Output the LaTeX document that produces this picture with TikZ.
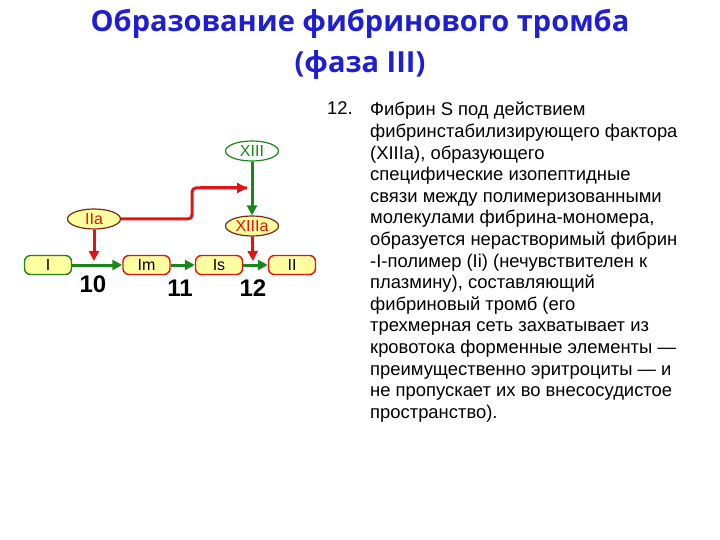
\documentclass[tikz,border=0pt]{standalone}
\usepackage{fontspec}
\setmainfont{Liberation Sans}
\newfontfamily\titlefont{Open Sans}
\usetikzlibrary{shapes.geometric,arrows.meta}
\definecolor{tblue}{RGB}{30,30,210}
\definecolor{agreen}{RGB}{25,135,25}
\definecolor{ared}{RGB}{225,20,20}
\definecolor{bfill}{RGB}{255,255,160}
\definecolor{edark}{RGB}{120,40,20}
\tikzset{
  stagebox/.style={draw, line width=1.4pt, rounded corners=6pt, fill=bfill,
    minimum width=47pt, minimum height=19pt, inner sep=0pt,
    font=\fontsize{16}{16}\selectfont},
  factor/.style={ellipse, draw=edark, line width=1.2pt, fill=bfill,
    minimum width=53pt, minimum height=20pt, inner sep=0pt,
    text=ared, font=\fontsize{16}{16}\selectfont},
  garrow/.style={agreen, line width=3pt, -{Triangle[length=10pt,width=10pt]}},
  rarrow/.style={ared, line width=3pt, -{Triangle[length=10pt,width=10pt]}},
  stepnum/.style={font=\bfseries\fontsize{24}{24}\selectfont},
}
\begin{document}
\begin{tikzpicture}[x=1pt,y=-1pt]
\useasboundingbox (0,0) rectangle (720,540);
% title
\node[font=\titlefont\bfseries\fontsize{29}{41}\selectfont, text=tblue, align=center] (title) at (360,44)
  {Образование фибринового тромба\\(фаза III)};
% stage boxes
\node[stagebox, draw=agreen] (I) at (48,265) {I};
\node[stagebox, draw=ared] (Im) at (146.5,265) {Im};
\node[stagebox, draw=ared] (Is) at (219,265) {Is};
\node[stagebox, draw=ared] (II) at (292,265) {II};
% factors
\node[factor] (IIa) at (94,219) {IIa};
\node[factor, draw=agreen, fill=white, text=agreen] (XIII) at (252,151) {XIII};
\node[factor] (XIIIa) at (252,226) {XIIIa};
% arrows
\draw[garrow] (I) -- (Im);
\draw[garrow] (Im) -- (Is);
\draw[garrow] (Is) -- (II);
\coordinate (c10) at (94,261);
\coordinate (c12) at (253,261);
\coordinate (xt) at (247,188);
\draw[rarrow] (IIa) -- (c10);
\draw[rarrow] (XIIIa) -- (c12);
\draw[garrow] (XIII) -- (XIIIa);
\draw[ared, line width=3pt, rounded corners=4pt] (IIa.east) -- (192,219) -- (192,188) -- (xt);
\draw[rarrow] (200,188) -- (xt);
% numbers
\node[stepnum] (n10) at (93,284) {10};
\node[stepnum] (n11) at (180,288) {11};
\node[stepnum] (n12) at (253,288) {12};
% text
\node[anchor=base west, inner sep=0pt, font=\fontsize{18.4}{21.6}\selectfont] (num) at (327,115) {12.};
\node[anchor=north west, inner sep=0pt, align=left, font=\fontsize{18.4}{21.6}\selectfont] (txt) at (370,102)
 {Фибрин S под действием\\
фибринстабилизирующего фактора\\
(XIIIa), образующего\\
специфические изопептидные\\
связи между полимеризованными\\
молекулами фибрина-мономера,\\
образуется нерастворимый фибрин\\
-I-полимер (Ii) (нечувствителен к\\
плазмину), составляющий\\
фибриновый тромб (его\\
трехмерная сеть захватывает из\\
кровотока форменные элементы —\\
преимущественно эритроциты — и\\
не пропускает их во внесосудистое\\
пространство).};
\end{tikzpicture}
\end{document}
